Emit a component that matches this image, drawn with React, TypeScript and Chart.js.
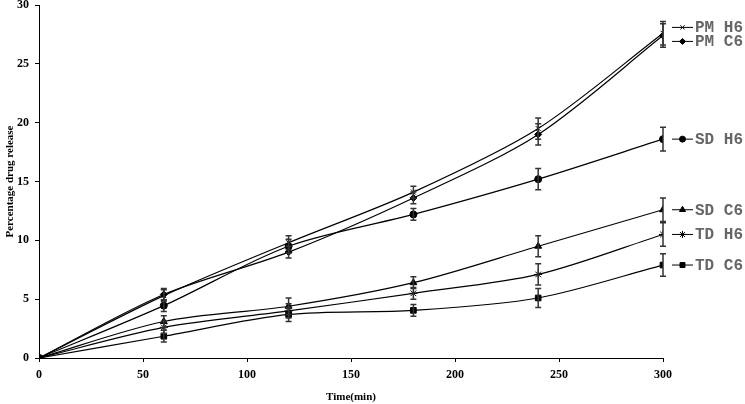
import React, { useEffect, useRef } from "react";
import { Chart, registerables } from "chart.js";
import { drawPoint } from "chart.js/helpers";

Chart.register(...registerables);

const times = [0, 60, 120, 180, 240, 300];
const xTicks = [0, 50, 100, 150, 200, 250, 300];
const yTicks = [0, 5, 10, 15, 20, 25, 30];

const seriesNames = ["PM H6", "PM C6", "SD H6", "SD C6", "TD H6", "TD C6"];
const pmH6 = [0, 5.3, 9.8, 14.1, 19.5, 27.6];
const pmC6 = [0, 5.4, 9.0, 13.6, 19.0, 27.4];
const sdH6 = [0, 4.45, 9.5, 12.2, 15.2, 18.6];
const sdC6 = [0, 3.1, 4.4, 6.4, 9.5, 12.6];
const tdH6 = [0, 2.6, 4.0, 5.5, 7.1, 10.5];
const tdC6 = [0, 1.85, 3.7, 4.05, 5.1, 7.9];

const pmH6Err = [0, 0.5, 0.6, 0.5, 0.9, 1.0];
const pmC6Err = [0, 0.5, 0.5, 0.5, 0.9, 1.0];
const sdH6Err = [0, 0.5, 0.6, 0.5, 0.9, 1.0];
const sdC6Err = [0, 0.5, 0.7, 0.5, 0.9, 1.0];
const tdH6Err = [0, 0.5, 0.6, 0.5, 0.9, 1.0];
const tdC6Err = [0, 0.5, 0.6, 0.5, 0.8, 0.95];

const seriesValues = [pmH6, pmC6, sdH6, sdC6, tdH6, tdC6];
const seriesErrors = [pmH6Err, pmC6Err, sdH6Err, sdC6Err, tdH6Err, tdC6Err];
const pointStyles: any[] = ["crossRot", "rectRot", "circle", "triangle", "star", "rect"];
const pointRadii = [3.5, 3.5, 3.5, 4, 4, 4];

const errorBarPlugin = {
  id: "errorBars",
  afterDatasetsDraw(chart: any) {
    const ctx = chart.ctx;
    const xs = chart.scales.x;
    const ys = chart.scales.y;
    ctx.save();
    ctx.strokeStyle = "#333";
    ctx.lineWidth = 1.5;
    seriesValues.forEach((vals, i) => {
      const errs = seriesErrors[i];
      vals.forEach((v, j) => {
        const e = errs[j];
        if (!e) return;
        const x = xs.getPixelForValue(times[j]);
        const yt = ys.getPixelForValue(v + e);
        const yb = ys.getPixelForValue(v - e);
        ctx.beginPath();
        ctx.moveTo(x, yt);
        ctx.lineTo(x, yb);
        ctx.moveTo(x - 3, yt);
        ctx.lineTo(x + 3, yt);
        ctx.moveTo(x - 3, yb);
        ctx.lineTo(x + 3, yb);
        ctx.stroke();
      });
    });
    ctx.restore();
  },
};

const sideLegendPlugin = {
  id: "sideLegend",
  afterDraw(chart: any) {
    const ctx = chart.ctx;
    const ys = chart.scales.y;
    const area = chart.chartArea;
    const gap = 14;
    const items = seriesValues.map((vals, i) => ({
      i,
      y: ys.getPixelForValue(vals[vals.length - 1]),
    }));
    items.sort((a, b) => a.y - b.y);
    let groups: any[][] = items.map((it) => [it]);
    let changed = true;
    const place = (g: any[]) => {
      const mean = g.reduce((s, it) => s + it.y, 0) / g.length;
      const start = mean - ((g.length - 1) * gap) / 2;
      return g.map((it, k) => start + k * gap);
    };
    while (changed) {
      changed = false;
      for (let k = 0; k < groups.length - 1; k++) {
        const a = place(groups[k]);
        const b = place(groups[k + 1]);
        if (b[0] - a[a.length - 1] < gap) {
          groups[k] = groups[k].concat(groups[k + 1]);
          groups.splice(k + 1, 1);
          changed = true;
          break;
        }
      }
    }
    ctx.save();
    groups.forEach((g) => {
      const ps = place(g);
      g.forEach((it, k) => {
        const y = ps[k];
        const x0 = area.right + 9;
        const x1 = area.right + 30;
        ctx.strokeStyle = "#000";
        ctx.fillStyle = "#000";
        ctx.lineWidth = 1;
        ctx.beginPath();
        ctx.moveTo(x0, y);
        ctx.lineTo(x1, y);
        ctx.stroke();
        drawPoint(
          ctx,
          { pointStyle: pointStyles[it.i], radius: pointRadii[it.i] - 0.5, rotation: 0, borderWidth: 1 },
          (x0 + x1) / 2,
          y
        );
        ctx.fillStyle = "#666";
        ctx.font = "bold 16px 'Liberation Mono', monospace";
        ctx.textBaseline = "middle";
        ctx.textAlign = "left";
        ctx.fillText(seriesNames[it.i], x1 + 2, y + 1);
      });
    });
    ctx.restore();
  },
};

export default function App() {
  const canvasRef = useRef<HTMLCanvasElement>(null);

  useEffect(() => {
    document.body.style.margin = "0";
    const canvas = canvasRef.current;
    if (!canvas) return;
    const tickFont = { family: "'Liberation Serif', serif", size: 12, weight: "bold" as const };
    const titleFont = { family: "'Liberation Serif', serif", size: 11, weight: "bold" as const };
    const chart = new Chart(canvas, {
      type: "line",
      data: {
        datasets: seriesValues.map((vals, i) => ({
          label: seriesNames[i],
          data: vals.map((v, j) => ({ x: times[j], y: v })),
          borderColor: "#000",
          backgroundColor: "#000",
          borderWidth: 1.2,
          pointStyle: pointStyles[i],
          pointRadius: pointRadii[i],
          pointBorderColor: "#000",
          pointBackgroundColor: "#000",
          pointBorderWidth: 1,
          tension: 0.3,
          fill: false,
        })),
      },
      options: {
        animation: false,
        responsive: false,
        maintainAspectRatio: false,
        layout: { padding: { top: 5, right: 82, left: 0, bottom: 0 } },
        plugins: {
          legend: { display: false },
          tooltip: { enabled: false },
        },
        scales: {
          x: {
            type: "linear",
            min: 0,
            max: 300,
            afterBuildTicks: (s: any) => {
              s.ticks = xTicks.map((v) => ({ value: v }));
            },
            afterFit: (s: any) => {
              s.height = 46;
            },
            grid: { drawOnChartArea: false, drawTicks: true, tickLength: 4, color: "#000" },
            border: { display: true, color: "#000", width: 1 },
            ticks: { color: "#000", font: tickFont, padding: 6, maxRotation: 0 },
            title: {
              display: true,
              text: "Time(min)",
              color: "#000",
              font: titleFont,
              padding: { top: 8, bottom: 0 },
            },
          },
          y: {
            type: "linear",
            min: 0,
            max: 30,
            afterBuildTicks: (s: any) => {
              s.ticks = yTicks.map((v) => ({ value: v }));
            },
            afterFit: (s: any) => {
              s.width = 39;
              s.paddingTop = 0;
              s.paddingBottom = 0;
            },
            grid: { drawOnChartArea: false, drawTicks: true, tickLength: 4, color: "#000" },
            border: { display: true, color: "#000", width: 1 },
            ticks: { color: "#000", font: tickFont, padding: 6 },
            title: {
              display: true,
              text: "Percentage drug release",
              color: "#000",
              font: titleFont,
              padding: { top: 4, bottom: 4 },
            },
          },
        },
      },
      plugins: [errorBarPlugin, sideLegendPlugin],
    });
    return () => chart.destroy();
  }, []);

  return (
    <div style={{ position: "fixed", left: 0, top: 0, width: 745, height: 404, background: "#fff" }}>
      <canvas ref={canvasRef} width={745} height={404} style={{ width: 745, height: 404 }} />
    </div>
  );
}
